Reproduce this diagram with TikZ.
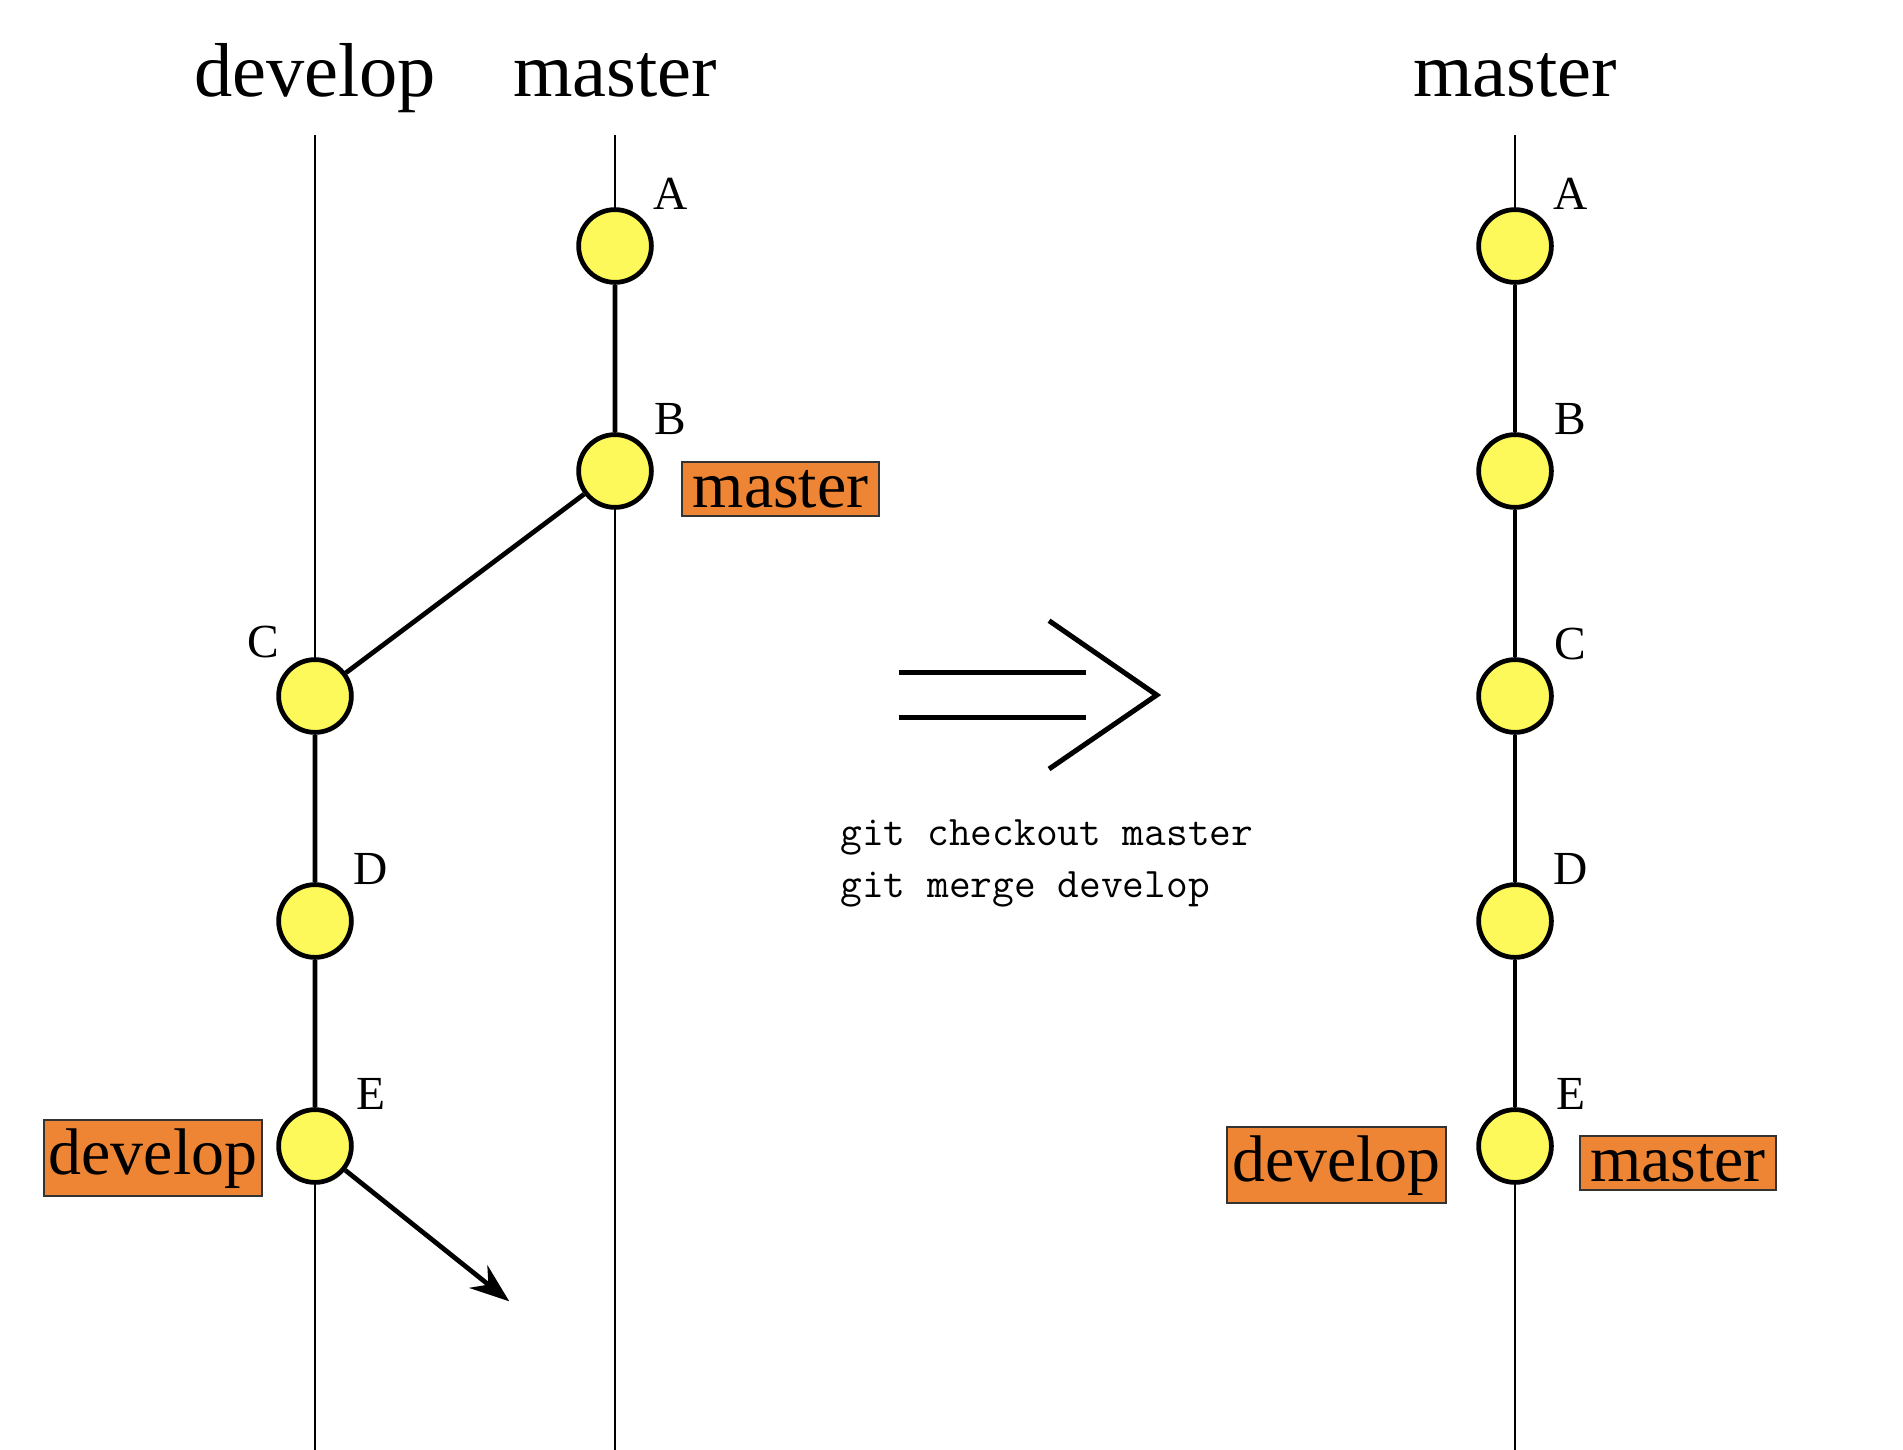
\documentclass[tikz,border=0pt]{standalone}
\usepackage{fontspec}
\setmainfont{Liberation Serif}
\usetikzlibrary{arrows.meta,calc}
\definecolor{commitfill}{HTML}{FEF95B}
\definecolor{tagfill}{HTML}{EE8535}
\begin{document}
\begin{tikzpicture}[
  lane/.style={line width=0.7pt, black},
  link/.style={line width=1.8pt, black},
  commit/.style={circle, draw=black, line width=1.8pt, fill=commitfill, minimum size=0.97cm, inner sep=0pt},
  clabel/.style={font=\fontsize{18}{20}\selectfont, inner sep=0pt},
  title/.style={font=\fontsize{29}{34}\selectfont, inner sep=0pt, anchor=base},
  tag/.style={draw=black!80, line width=0.8pt, fill=tagfill, font=\fontsize{25}{28}\selectfont, inner xsep=0pt, inner ysep=3pt},
  cmd/.style={font=\ttfamily\fontsize{16}{19.7}\selectfont, inner sep=0pt, anchor=base west},
  bigarrow/.style={line width=1.9pt, black},
]
\useasboundingbox (0,0) rectangle (25.373,-19.333);

% lanes
\coordinate (devTop) at (4.2,-1.8);  \coordinate (devBot) at (4.2,-19.333);
\coordinate (masTop) at (8.2,-1.8);  \coordinate (masBot) at (8.2,-19.333);
\coordinate (rTop) at (20.2,-1.8);   \coordinate (rBot) at (20.2,-19.333);
\draw[lane] (devTop) -- (devBot);
\draw[lane] (masTop) -- (masBot);
\draw[lane] (rTop) -- (rBot);

% titles
\node[title] (tDev) at (4.2,-1.293) {develop};
\node[title] (tMas) at (8.2,-1.293) {master};
\node[title] (tMas2) at (20.2,-1.293) {master};

% left commits
\node[commit] (A) at (8.2,-3.28) {};
\node[commit] (B) at (8.2,-6.28) {};
\node[commit] (C) at (4.2,-9.28) {};
\node[commit] (D) at (4.2,-12.28) {};
\node[commit] (E) at (4.2,-15.28) {};
\draw[link] (A) -- (B) -- (C) -- (D) -- (E);
\coordinate (Eout) at (6.79,-17.35);
\draw[link, -{Stealth[length=15pt,width=11pt]}] (E) -- (Eout);

\node[clabel] (lA) at ($(A)+(0.74,0.69)$) {A};
\node[clabel] (lB) at ($(B)+(0.74,0.69)$) {B};
\node[clabel] (lC) at ($(C)+(-0.69,0.72)$) {C};
\node[clabel] (lD) at ($(D)+(0.74,0.69)$) {D};
\node[clabel] (lE) at ($(E)+(0.74,0.69)$) {E};

\node[tag, anchor=base west, minimum width=2.627cm] (tagM) at (9.08,-6.76) {master};
\node[tag, anchor=base east, minimum width=2.907cm] (tagD) at (3.507,-15.653) {develop};

% right commits
\node[commit] (A2) at (20.2,-3.28) {};
\node[commit] (B2) at (20.2,-6.28) {};
\node[commit] (C2) at (20.2,-9.28) {};
\node[commit] (D2) at (20.2,-12.28) {};
\node[commit] (E2) at (20.2,-15.28) {};
\draw[link] (A2) -- (B2) -- (C2) -- (D2) -- (E2);

\node[clabel] (lA2) at ($(A2)+(0.74,0.69)$) {A};
\node[clabel] (lB2) at ($(B2)+(0.74,0.69)$) {B};
\node[clabel] (lC2) at ($(C2)+(0.74,0.69)$) {C};
\node[clabel] (lD2) at ($(D2)+(0.74,0.69)$) {D};
\node[clabel] (lE2) at ($(E2)+(0.74,0.69)$) {E};

\node[tag, anchor=base east, minimum width=2.92cm] (tagD2) at (19.293,-15.747) {develop};
\node[tag, anchor=base west, minimum width=2.613cm] (tagM2) at (21.053,-15.747) {master};

% big double arrow
\draw[bigarrow] (11.99,-8.97) -- (14.48,-8.97);
\draw[bigarrow] (11.99,-9.563) -- (14.48,-9.563);
\draw[bigarrow] (13.987,-8.276) -- (15.423,-9.267) -- (13.987,-10.253);

% commands
\node[cmd] (cmd1) at (11.2,-11.267) {git checkout master};
\node[cmd] (cmd2) at (11.2,-11.96) {git merge develop};
\end{tikzpicture}
\end{document}
